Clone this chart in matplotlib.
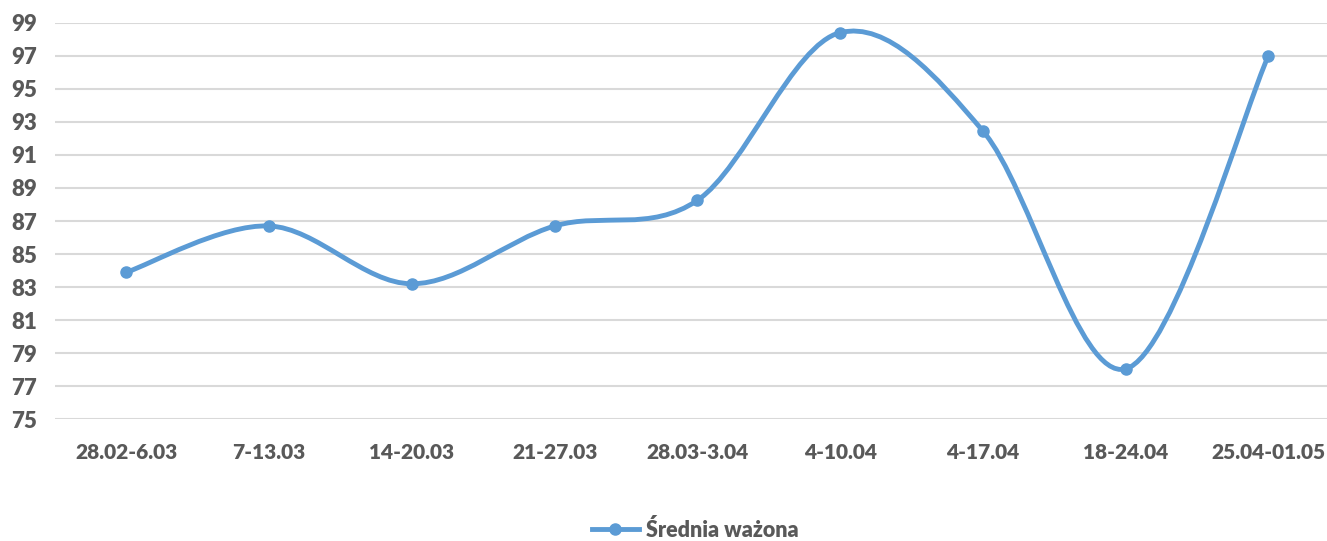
import numpy as np
import matplotlib.pyplot as plt
from matplotlib.path import Path
from matplotlib.patches import PathPatch
from matplotlib.lines import Line2D

weeks = ["28.02-6.03", "7-13.03", "14-20.03", "21-27.03", "28.03-3.04",
         "4-10.04", "4-17.04", "18-24.04", "25.04-01.05"]
values = [83.9, 86.7, 83.2, 86.7, 88.25, 98.4, 92.45, 78.05, 97.0]
yticks = list(range(75, 100, 2))

color = "#5B9BD5"
grey = "#595959"
plt.rcParams["font.family"] = ["Lato", "DejaVu Sans"]
plt.rcParams["font.weight"] = "heavy"

fig = plt.figure(figsize=(13.27, 5.41), dpi=100)
ax = fig.add_axes([55 / 1327, 1 - 419.3 / 541, 1 - 55 / 1327, (419.3 - 22.7) / 541])

# Excel-style smoothed line: cubic Bezier segments through the points
x = np.arange(len(values), dtype=float)
y = np.array(values, dtype=float)
verts = [(x[0], y[0])]
codes = [Path.MOVETO]
n = len(x)
for i in range(n - 1):
    p0 = i - 1 if i > 0 else i
    p3 = i + 2 if i + 2 < n else i + 1
    c1 = (x[i] + (x[i + 1] - x[p0]) / 6, y[i] + (y[i + 1] - y[p0]) / 6)
    c2 = (x[i + 1] - (x[p3] - x[i]) / 6, y[i + 1] - (y[p3] - y[i]) / 6)
    verts += [c1, c2, (x[i + 1], y[i + 1])]
    codes += [Path.CURVE4] * 3
patch = PathPatch(Path(verts, codes), facecolor="none", edgecolor=color,
                  lw=3.5, capstyle="round", joinstyle="round", zorder=3, clip_on=False)
ax.add_patch(patch)
ax.plot(x, y, "o", color=color, ms=8, zorder=4, clip_on=False)

ax.set_xlim(-0.5, (1327 - 126) / 142.8)
ax.set_ylim(75, 99)
ax.set_yticks(yticks)
ax.set_xticks(x)
ax.set_xticklabels(weeks)
ax.grid(axis="y", color="#D9D9D9", lw=1.5)
ax.set_axisbelow(True)
for s in ax.spines.values():
    s.set_visible(False)
ax.tick_params(axis="both", length=0, labelcolor=grey)
ax.tick_params(axis="y", pad=13, labelsize=16)
ax.tick_params(axis="x", pad=17, labelsize=15)

handle = Line2D([], [], color=color, lw=3.5, marker="o", ms=8)
fig.legend([handle], ["Średnia ważona"], loc="center", bbox_to_anchor=(695 / 1327, 1 - 530 / 541),
           frameon=False, fontsize=15.5, labelcolor=grey, handlelength=2.2, handletextpad=0.3)

fig.savefig("out.png", dpi=100)
